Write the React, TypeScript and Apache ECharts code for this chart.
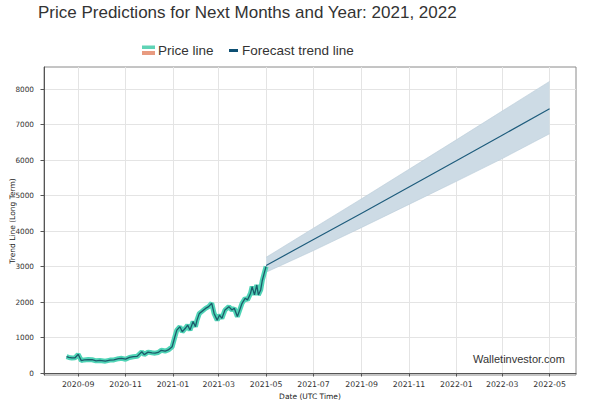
import React, { useEffect, useRef } from "react";
import * as echarts from "echarts";

// ---- data ----
const priceDates = [
  "2020-08-17", "2020-08-20", "2020-08-24", "2020-08-28", "2020-09-01", "2020-09-03", "2020-09-05",
  "2020-09-09", "2020-09-14", "2020-09-19", "2020-09-24", "2020-09-29", "2020-10-06", "2020-10-12",
  "2020-10-17", "2020-10-23", "2020-10-27", "2020-11-01", "2020-11-06", "2020-11-11", "2020-11-16",
  "2020-11-22", "2020-11-25", "2020-11-30", "2020-12-05", "2020-12-09", "2020-12-13", "2020-12-17",
  "2020-12-22", "2020-12-26", "2020-12-31", "2021-01-03", "2021-01-06", "2021-01-10", "2021-01-13",
  "2021-01-17", "2021-01-20", "2021-01-23", "2021-01-27", "2021-01-30", "2021-02-01", "2021-02-04",
  "2021-02-07", "2021-02-12", "2021-02-16", "2021-02-20", "2021-02-23", "2021-02-27", "2021-03-02",
  "2021-03-05", "2021-03-09", "2021-03-14", "2021-03-18", "2021-03-21", "2021-03-25", "2021-03-31",
  "2021-04-04", "2021-04-07", "2021-04-11", "2021-04-13", "2021-04-16", "2021-04-19", "2021-04-21",
  "2021-04-24", "2021-04-26", "2021-04-29", "2021-05-01",
];
const priceValues = [
  460, 440, 425, 430, 527, 440, 350,
  370, 380, 375, 345, 355, 335, 365,
  370, 405, 415, 390, 440, 460, 470,
  600, 520, 590, 570, 560, 580, 640,
  620, 650, 740, 980, 1210, 1305, 1165,
  1260, 1350, 1210, 1450, 1305, 1490, 1680,
  1730, 1820, 1870, 1965, 1680, 1490, 1635,
  1540, 1775, 1870, 1775, 1825, 1590, 1965,
  2105, 2060, 2250, 2435, 2200, 2480, 2200,
  2340, 2600, 2850, 3000,
];

const forecastDates = ["2021-05-01", "2021-07-01", "2021-09-01", "2021-11-01", "2022-01-01", "2022-03-01", "2022-05-01"];
const forecastLine = [3030, 3760, 4500, 5240, 5980, 6700, 7445];
const forecastUpper = [3260, 4080, 4910, 5740, 6570, 7380, 8215];
const forecastLower = [2840, 3450, 4100, 4750, 5400, 6040, 6740];

const xTickDates = ["2020-09-01", "2020-11-01", "2021-01-01", "2021-03-01", "2021-05-01", "2021-07-01", "2021-09-01", "2021-11-01", "2022-01-01", "2022-03-01", "2022-05-01"];
const yTicks = [0, 1000, 2000, 3000, 4000, 5000, 6000, 7000, 8000];

const titleText = "Price Predictions for Next Months and Year: 2021, 2022";
const legendPrice = "Price line";
const legendForecast = "Forecast trend line";
const watermark = "Walletinvestor.com";
const xName = "Date (UTC Time)";
const yName = "Trend Line (Long Term)";

const ts = (d: string) => {
  const [y, m, dd] = d.split("-").map(Number);
  return Date.UTC(y, m - 1, dd);
};

export default function App() {
  const ref = useRef<HTMLDivElement>(null);
  useEffect(() => {
    if (!ref.current) return;
    const chart = echarts.init(ref.current, undefined, { renderer: "svg" });
    const sans = "'Liberation Sans', Arial, sans-serif";
    const tickFont = "'DejaVu Sans', sans-serif";

    const priceData = priceDates.map((d, i) => [ts(d), priceValues[i]]);
    const lineData = forecastDates.map((d, i) => [ts(d), forecastLine[i]]);
    const lowerData = forecastDates.map((d, i) => [ts(d), forecastLower[i]]);
    const diffData = forecastDates.map((d, i) => [ts(d), forecastUpper[i] - forecastLower[i]]);
    const xTicks = xTickDates.map(ts);

    chart.setOption({
      animation: false,
      useUTC: true,
      backgroundColor: "#ffffff",
      title: {
        text: titleText,
        left: 38,
        top: 4,
        padding: 0,
        textStyle: { fontFamily: sans, fontSize: 17, fontWeight: "normal", color: "#333" },
      },
      grid: {
        left: 44,
        top: 67,
        width: 532,
        height: 308,
        containLabel: false,
        outerBoundsMode: "none",
        show: true,
        borderColor: "#8a8a8a",
        borderWidth: 1,
        backgroundColor: "transparent",
      },
      xAxis: {
        type: "time",
        min: ts("2020-07-19"),
        max: ts("2022-06-04"),
        name: xName,
        nameLocation: "middle",
        nameGap: 17,
        nameMoveOverlap: false,
        nameTextStyle: { fontFamily: tickFont, fontSize: 7.5, color: "#222", verticalAlign: "top" },
        axisLine: { show: true, lineStyle: { color: "#555", width: 1 } },
        axisTick: { show: true, length: 3.5, customValues: xTicks, lineStyle: { color: "#555" } },
        axisLabel: {
          customValues: xTicks,
          formatter: "{yyyy}-{MM}",
          fontFamily: tickFont,
          fontSize: 7.8,
          color: "#333",
          margin: 5,
          hideOverlap: false,
        },
        splitLine: { show: true, lineStyle: { color: "#e4e4e4", width: 1 } },
      },
      yAxis: {
        type: "value",
        min: -55,
        max: 8620,
        name: yName,
        nameLocation: "middle",
        nameGap: 28,
        nameRotate: 90,
        nameMoveOverlap: false,
        nameTextStyle: { fontFamily: tickFont, fontSize: 7.5, color: "#222" },
        axisLine: { show: true, lineStyle: { color: "#555", width: 1 } },
        axisTick: { show: true, length: 3.5, customValues: yTicks, lineStyle: { color: "#555" } },
        axisLabel: {
          customValues: yTicks,
          formatter: (v: number) => String(v),
          fontFamily: tickFont,
          fontSize: 7.3,
          color: "#333",
          margin: 10,
        },
        splitLine: { show: true, lineStyle: { color: "#e4e4e4", width: 1 } },
      },
      series: [
        {
          name: "lower",
          type: "line",
          stack: "band",
          data: lowerData,
          symbol: "none",
          lineStyle: { width: 0.6, color: "#b8cbd8" },
          silent: true,
          z: 1,
        },
        {
          name: "band",
          type: "line",
          stack: "band",
          data: diffData,
          symbol: "none",
          lineStyle: { width: 0.6, color: "#b8cbd8" },
          areaStyle: { color: "#cddbe5", opacity: 1 },
          silent: true,
          z: 1,
        },
        {
          name: legendPrice + " glow",
          type: "line",
          data: priceData,
          symbol: "none",
          lineStyle: { width: 5, color: "#4fd4b6" },
          z: 3,
        },
        {
          name: legendPrice,
          type: "line",
          data: priceData,
          symbol: "none",
          lineStyle: { width: 1.3, color: "#1c5b6a" },
          z: 4,
        },
        {
          name: legendForecast,
          type: "line",
          data: lineData,
          symbol: "none",
          lineStyle: { width: 1.2, color: "#1f5d7d" },
          z: 5,
        },
      ],
      graphic: [
        { type: "rect", left: 142, top: 45.5, shape: { width: 13, height: 3.5 }, style: { fill: "#5fd3b5" } },
        { type: "rect", left: 142, top: 51, shape: { width: 13, height: 4 }, style: { fill: "#e89b80" } },
        {
          type: "text",
          x: 158,
          y: 50,
          style: { text: legendPrice, fontFamily: sans, fontSize: 13.5, fill: "#333", verticalAlign: "middle" },
        },
        { type: "rect", left: 229, top: 49, shape: { width: 9, height: 3 }, style: { fill: "#0d4f73" } },
        {
          type: "text",
          x: 242,
          y: 50,
          style: { text: legendForecast, fontFamily: sans, fontSize: 13.5, fill: "#333", verticalAlign: "middle" },
        },
        {
          type: "text",
          x: 473,
          y: 359,
          style: { text: watermark, fontFamily: sans, fontSize: 11, fill: "#333", verticalAlign: "middle" },
          z: 10,
        },
      ],
    });
    return () => chart.dispose();
  }, []);
  return (
    <div
      ref={ref}
      style={{ position: "absolute", left: 0, top: 0, width: 612, height: 409, background: "#fff" }}
    />
  );
}
